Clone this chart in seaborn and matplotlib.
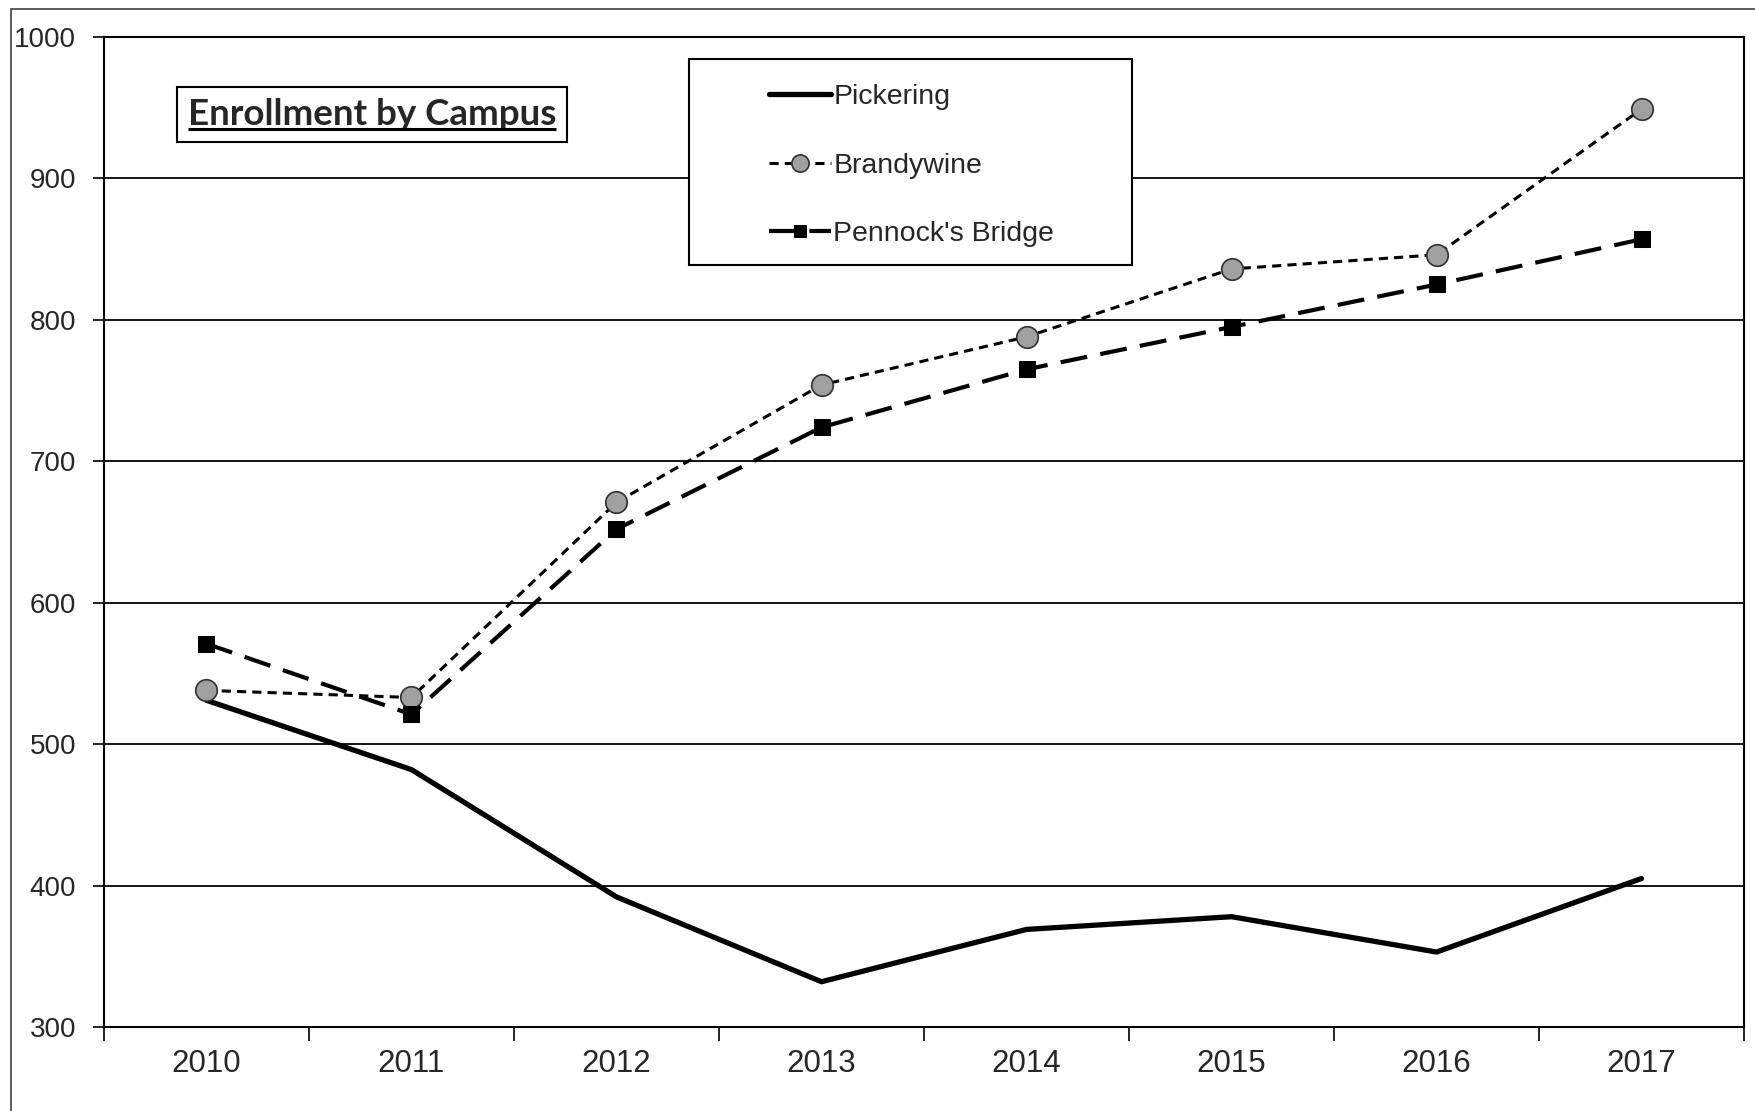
"""
plot.py
Enrollment by campus, 2010-2017.
"""

import numpy as np
import pandas as pd
import matplotlib.pyplot as plt
import matplotlib.patches as mpatches
import matplotlib.transforms as mtransforms
import seaborn as sns

years = [2010, 2011, 2012, 2013, 2014, 2015, 2016, 2017]
pickering = [531, 482, 392, 332, 369, 378, 353, 405]
brandywine = [538, 533, 671, 754, 788, 836, 846, 949]
pennocks = [571, 521, 652, 724, 765, 795, 825, 857]
y_ticks = [300, 400, 500, 600, 700, 800, 900, 1000]


def main():
    sns.set_style("white")
    plt.rcParams["font.family"] = ["Liberation Sans", "DejaVu Sans"]

    fig = plt.figure(figsize=(17.56, 11.11), dpi=100)
    ax = fig.add_axes([0.0592, 0.0756, 0.9340, 0.8911])

    df = pd.DataFrame({"Year": years, "Pickering": pickering,
                       "Brandywine": brandywine, "Pennock's Bridge": pennocks})

    sns.lineplot(data=df, x="Year", y="Pickering", ax=ax, color="black",
                 lw=3.8, label="Pickering", zorder=3)
    sns.lineplot(data=df, x="Year", y="Brandywine", ax=ax, color="black",
                 lw=2.2, linestyle=(0, (3, 2)),
                 marker="o", markersize=15.5, markerfacecolor="#a0a0a0",
                 markeredgecolor="#303030", markeredgewidth=1.2,
                 label="Brandywine", zorder=4)
    sns.lineplot(data=df, x="Year", y="Pennock's Bridge", ax=ax, color="black",
                 lw=3.0, linestyle=(0, (6.5, 3.2)), marker="s", markersize=11,
                 markerfacecolor="black", markeredgecolor="black",
                 label="Pennock's Bridge", zorder=4)

    ax.set_xlim(years[0] - 0.5, years[-1] + 0.5)
    ax.set_ylim(y_ticks[0], y_ticks[-1])
    ax.set_yticks(y_ticks)
    ax.set_yticklabels([str(t) for t in y_ticks], fontsize=20)
    ax.yaxis.grid(True, color="black", lw=1.3)
    ax.set_axisbelow(True)

    # tick marks between categories, labels centred on the years
    ax.set_xticks(np.arange(years[0] - 0.5, years[-1] + 1.5, 1))
    ax.set_xticklabels([])
    ax.set_xticks(years, minor=True)
    ax.set_xticklabels([str(y) for y in years], minor=True, fontsize=22.5)
    ax.tick_params(axis="x", which="major", length=10, width=1.2,
                   direction="out", color="black", bottom=True)
    ax.tick_params(axis="x", which="minor", length=0, pad=16)
    ax.tick_params(axis="y", length=8, width=1.2, direction="out",
                   color="black", left=True, pad=12)
    ax.set_xlabel("")
    ax.set_ylabel("")
    for s in ax.spines.values():
        s.set_color("black")
        s.set_linewidth(1.5)

    # legend without its own frame, box drawn separately (wide left margin)
    leg = ax.legend(loc="upper left", bbox_to_anchor=(0.4057, 0.9525),
                    frameon=False, fontsize=20.5,
                    handlelength=2.15, handletextpad=0.1, labelspacing=1.5,
                    borderpad=0, borderaxespad=0, markerscale=0.8)
    leg.set_zorder(7)
    ax.add_patch(mpatches.Rectangle((0.3566, 0.7697), 0.2705, 0.2081,
                                    transform=ax.transAxes, fc="white",
                                    ec="black", lw=1.5, zorder=6))

    title_y = 0.911
    title = ax.text(0.0512, title_y, "Enrollment by Campus", transform=ax.transAxes,
                    fontsize=26.5, fontweight="bold", family=["Lato", "DejaVu Sans"],
                    ha="left", va="baseline", zorder=8,
                    bbox=dict(boxstyle="square,pad=0.3", fc="white", ec="black", lw=1.5))
    fig.canvas.draw()
    ext = title.get_window_extent().transformed(ax.transAxes.inverted())
    under = ax.transAxes + mtransforms.ScaledTranslation(0, -3 / 72, fig.dpi_scale_trans)
    ax.plot([ext.x0, ext.x1], [title_y, title_y], transform=under,
            color="black", lw=2.2, zorder=9, solid_capstyle="butt")

    # outer chart border
    fig.patches.append(mpatches.Rectangle((0.0063, -0.01), 1.0, 1.002,
                                          transform=fig.transFigure, fill=False,
                                          ec="#404040", lw=1.2))

    fig.savefig("out.png", dpi=100)
    plt.close()


if __name__ == "__main__":
    main()
